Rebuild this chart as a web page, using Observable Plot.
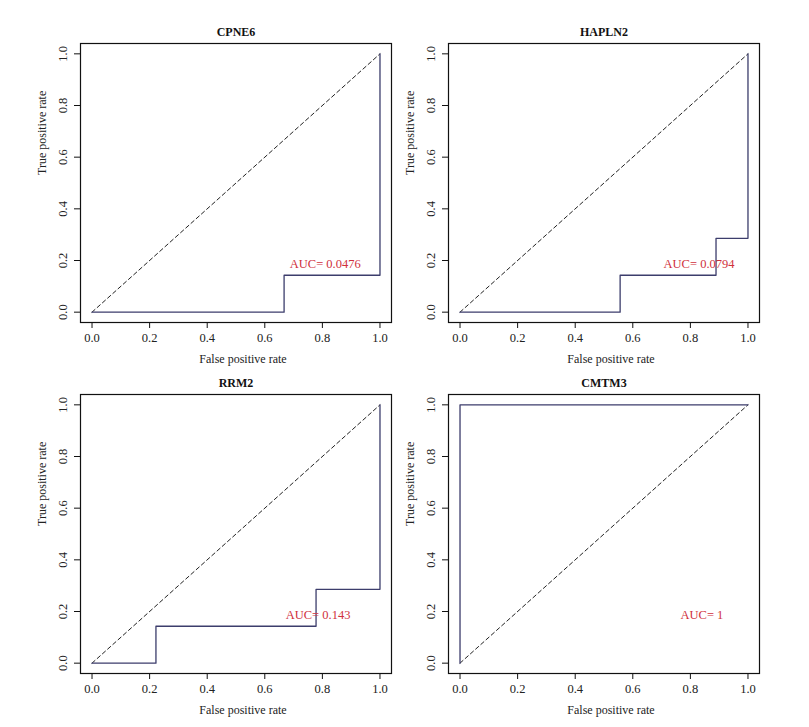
<!DOCTYPE html>
<html>
<head>
<meta charset="utf-8">
<script src="https://cdn.jsdelivr.net/npm/d3@7"></script>
<script src="https://cdn.jsdelivr.net/npm/@observablehq/plot@0.6"></script>
<style>
  body { margin: 0; background: white; }
  #wrap { position: relative; width: 809px; height: 727px; overflow: hidden; }
  .panel { position: absolute; }
</style>
</head>
<body>
<div id="wrap"></div>
<script>
// Panel titles (genes)
const genes = ["CPNE6", "HAPLN2", "RRM2", "CMTM3"];
// ROC step coordinates: false positive rate / true positive rate
const fprCPNE6  = [0, 0.667, 0.667, 1, 1];
const tprCPNE6  = [0, 0, 0.143, 0.143, 1];
const fprHAPLN2 = [0, 0.556, 0.556, 0.889, 0.889, 1, 1];
const tprHAPLN2 = [0, 0, 0.143, 0.143, 0.286, 0.286, 1];
const fprRRM2   = [0, 0.222, 0.222, 0.778, 0.778, 1, 1];
const tprRRM2   = [0, 0, 0.143, 0.143, 0.286, 0.286, 1];
const fprCMTM3  = [0, 0, 1];
const tprCMTM3  = [0, 1, 1];
// AUC labels and their positions in data units
const aucLabels = ["AUC= 0.0476", "AUC= 0.0794", "AUC= 0.143", "AUC= 1"];
const aucX = [0.81, 0.83, 0.785, 0.84];
const aucY = [0.186, 0.186, 0.186, 0.186];
// Reference diagonal
const diagX = [0, 1];
const diagY = [0, 1];
const ticks = [0, 0.2, 0.4, 0.6, 0.8, 1.0];

const fprs = [fprCPNE6, fprHAPLN2, fprRRM2, fprCMTM3];
const tprs = [tprCPNE6, tprHAPLN2, tprRRM2, tprCMTM3];

const font = "'Liberation Serif', 'DejaVu Serif', serif";
const curveColor = "#3c3d6c";
const aucColor = "#d0303c";
const offsets = [[0, 0], [368, 0], [0, 351], [368, 351]];

const wrap = document.getElementById("wrap");
genes.forEach((g, i) => {
  const curve = fprs[i].map((x, j) => ({x, y: tprs[i][j]}));
  const diag = diagX.map((x, j) => ({x, y: diagY[j]}));
  const chart = Plot.plot({
    width: 400,
    height: 370,
    marginLeft: 80,
    marginRight: 9,
    marginTop: 43,
    marginBottom: 48,
    style: {background: "transparent", fontFamily: font, fontSize: "12.5px", color: "#222"},
    x: {domain: [-0.04, 1.04]},
    y: {domain: [-0.04, 1.04]},
    marks: [
      Plot.frame({stroke: "#111", strokeWidth: 1.2}),
      Plot.axisX({ticks, tickFormat: d3.format(".1f"), tickSize: 6, tickPadding: 5, fontSize: 12.5, label: null, stroke: "#111", fill: "#222"}),
      Plot.axisY({ticks, tickFormat: d3.format(".1f"), tickSize: 6, tickPadding: 8, fontSize: 12.5, tickRotate: -90, label: null, stroke: "#111", fill: "#222"}),
      Plot.line(diag, {x: "x", y: "y", stroke: "#222", strokeWidth: 1, strokeDasharray: "4,3"}),
      Plot.line(curve, {x: "x", y: "y", stroke: curveColor, strokeWidth: 1.3}),
      Plot.text([aucLabels[i]], {x: [aucX[i]], y: [aucY[i]], text: d => d, fill: aucColor, fontSize: 12.5, lineAnchor: "middle"}),
      Plot.text([g], {frameAnchor: "top", dy: -11, text: d => d, fontWeight: "bold", fontSize: 12, fill: "#111", lineAnchor: "middle"}),
      Plot.text(["False positive rate"], {frameAnchor: "bottom", dy: 37, dx: 7, text: d => d, fontSize: 12, fill: "#222", lineAnchor: "middle"}),
      Plot.text(["True positive rate"], {frameAnchor: "left", dx: -38, dy: -8, rotate: -90, text: d => d, fontSize: 12, fill: "#222", lineAnchor: "middle"})
    ]
  });
  chart.classList.add("panel");
  chart.style.left = offsets[i][0] + "px";
  chart.style.top = offsets[i][1] + "px";
  wrap.appendChild(chart);
});
</script>
</body>
</html>
